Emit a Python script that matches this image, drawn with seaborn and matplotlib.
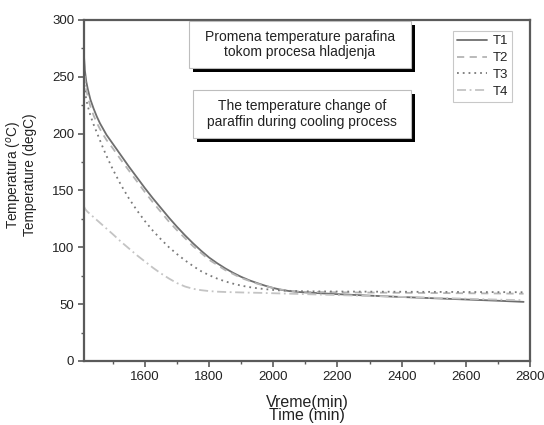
import matplotlib
matplotlib.use("Agg")
import matplotlib.pyplot as plt
from matplotlib.patches import Rectangle
from matplotlib.ticker import MultipleLocator
import numpy as np
import pandas as pd
import seaborn as sns

# Time axis of the cooling measurements (min)
time_min = [1410, 1413, 1417, 1422, 1430, 1440, 1450, 1460, 1470, 1480,
            1500, 1525, 1550, 1575, 1600, 1625, 1650, 1675, 1700, 1725,
            1750, 1775, 1800, 1825, 1850, 1875, 1900, 1925, 1950, 1975,
            2000, 2025, 2050, 2075, 2100, 2200, 2300, 2400, 2500, 2600,
            2700, 2780]

# Temperatures of the four probes (degC)
t1 = [268, 255, 246, 239, 230, 222, 215, 209, 204, 199,
      191, 181, 171, 161.5, 152, 143, 134.5, 126, 118, 110.5,
      103.5, 97, 91, 86, 81.5, 77.5, 74, 71, 68.5, 66.2,
      64.2, 62.6, 61.5, 60.8, 60.3, 58.8, 57.5, 56.3, 55.2, 54.1,
      53, 52]
t2 = [262, 248, 239, 232, 224, 216, 209.5, 204, 199, 194.5,
      187, 177, 167.5, 158, 148.5, 139.5, 131, 122.5, 115, 108,
      101, 95, 89, 84.5, 80, 76.5, 73, 70.5, 68, 66,
      64.2, 62.8, 61.8, 61.2, 60.8, 60.4, 60.2, 60, 59.8, 59.6,
      59.4, 59.2]
t3 = [248, 238, 230, 224, 216, 208, 201, 194, 187, 180.5,
      168.5, 155, 143, 132.5, 123, 114.5, 107, 100, 94, 88.5,
      83.5, 79, 75.5, 72.5, 70, 68, 66.3, 65, 64, 63.2,
      62.5, 62, 61.7, 61.5, 61.3, 61.1, 61, 60.9, 60.8, 60.7,
      60.6, 60.5]
t4 = [136, 134, 132.5, 131, 129, 126.5, 124, 121.5, 119, 116.5,
      111.5, 105, 99, 93, 87.5, 82, 77, 72.5, 68.5, 65.5,
      63.5, 62.3, 61.5, 61, 60.7, 60.5, 60.3, 60.1, 60, 59.8,
      59.6, 59.4, 59.2, 59, 58.8, 58, 57.2, 56.4, 55.6, 54.8,
      54, 53.5]

series_names = ["T1", "T2", "T3", "T4"]
series_values = [t1, t2, t3, t4]

df = pd.DataFrame({
    "time": np.tile(time_min, len(series_names)),
    "temp": np.concatenate(series_values),
    "probe": np.repeat(series_names, len(time_min)),
})

sns.set_theme(style="white")
plt.rcParams["font.family"] = ["Liberation Sans", "DejaVu Sans"]
plt.rcParams["mathtext.fontset"] = "custom"
plt.rcParams["mathtext.rm"] = "Liberation Sans"

palette = {"T1": "#6e6e6e", "T2": "#b4b4b4", "T3": "#7a7a7a", "T4": "#c4c4c4"}
dashes = {"T1": "", "T2": (4, 3), "T3": (1, 2.2), "T4": (5, 2, 1, 2)}

fig = plt.figure(figsize=(5.44, 4.25), dpi=100)
ax = fig.add_axes([0.1544, 0.1506, 0.8199, 0.8024])

sns.lineplot(data=df, x="time", y="temp", hue="probe", style="probe",
             palette=palette, dashes=dashes, linewidth=1.3, ax=ax,
             legend=False, sort=False)

ax.set_xlim(1410, 2800)
ax.set_ylim(0, 300)
ax.xaxis.set_major_locator(MultipleLocator(200))
ax.xaxis.set_minor_locator(MultipleLocator(100))
ax.yaxis.set_major_locator(MultipleLocator(50))
ax.yaxis.set_minor_locator(MultipleLocator(25))

spine_col = "#5a5a5a"
for s in ax.spines.values():
    s.set_color(spine_col)
    s.set_linewidth(1.6)
    s.set_visible(True)
ax.tick_params(which="major", direction="out", length=4, width=1.2,
               color=spine_col, labelsize=9.5, labelcolor="#222222",
               bottom=True, left=True, pad=3)
ax.tick_params(which="minor", direction="out", length=2.5, width=1.0,
               color=spine_col, bottom=True, left=True)

ax.set_xlabel("Vreme(min)\nTime (min)", fontsize=11.5, color="#222222",
              linespacing=0.8, labelpad=9)
ax.set_ylabel("Temperatura ($^{o}$C)\nTemperature (degC)", fontsize=9.8,
              color="#222222", linespacing=0.92)
ax.yaxis.set_label_coords(-0.105, 0.545)

# Legend with the four line styles
handles = [plt.Line2D([], [], color=palette[n], linewidth=1.3,
                      linestyle=(0, dashes[n]) if dashes[n] else "-")
           for n in series_names]
leg = ax.legend(handles, series_names, loc="upper right",
                bbox_to_anchor=(0.965, 0.975), frameon=True, fancybox=False,
                fontsize=9.5, handlelength=2.3, handletextpad=0.4,
                labelspacing=0.35, borderpad=0.3, borderaxespad=0.2)
leg.get_frame().set_edgecolor("#bbbbbb")
leg.get_frame().set_linewidth(0.8)
for t in leg.get_texts():
    t.set_color("#222222")

# Caption boxes with a drop shadow
def caption(x0, y0, x1, y1, text):
    w, h = x1 - x0, y1 - y0
    dx = 4 / (0.8199 * 544)
    dy = 4 / (0.8024 * 425)
    ax.add_patch(Rectangle((x0 + dx, y0 - dy), w, h, transform=ax.transAxes,
                           facecolor="black", edgecolor="none", zorder=5,
                           clip_on=False))
    ax.add_patch(Rectangle((x0, y0), w, h, transform=ax.transAxes,
                           facecolor="white", edgecolor="#bdbdbd",
                           linewidth=0.8, zorder=6, clip_on=False))
    ax.text((x0 + x1) / 2, (y0 + y1) / 2, text, transform=ax.transAxes,
            ha="center", va="center", fontsize=10, color="#222222",
            linespacing=1.15, zorder=7)

caption(0.235, 0.859, 0.733, 0.997,
        "Promena temperature parafina\ntokom procesa hladjenja")
caption(0.244, 0.654, 0.733, 0.795,
        "The temperature change of\nparaffin during cooling process")

fig.savefig("out.png", dpi=100)
